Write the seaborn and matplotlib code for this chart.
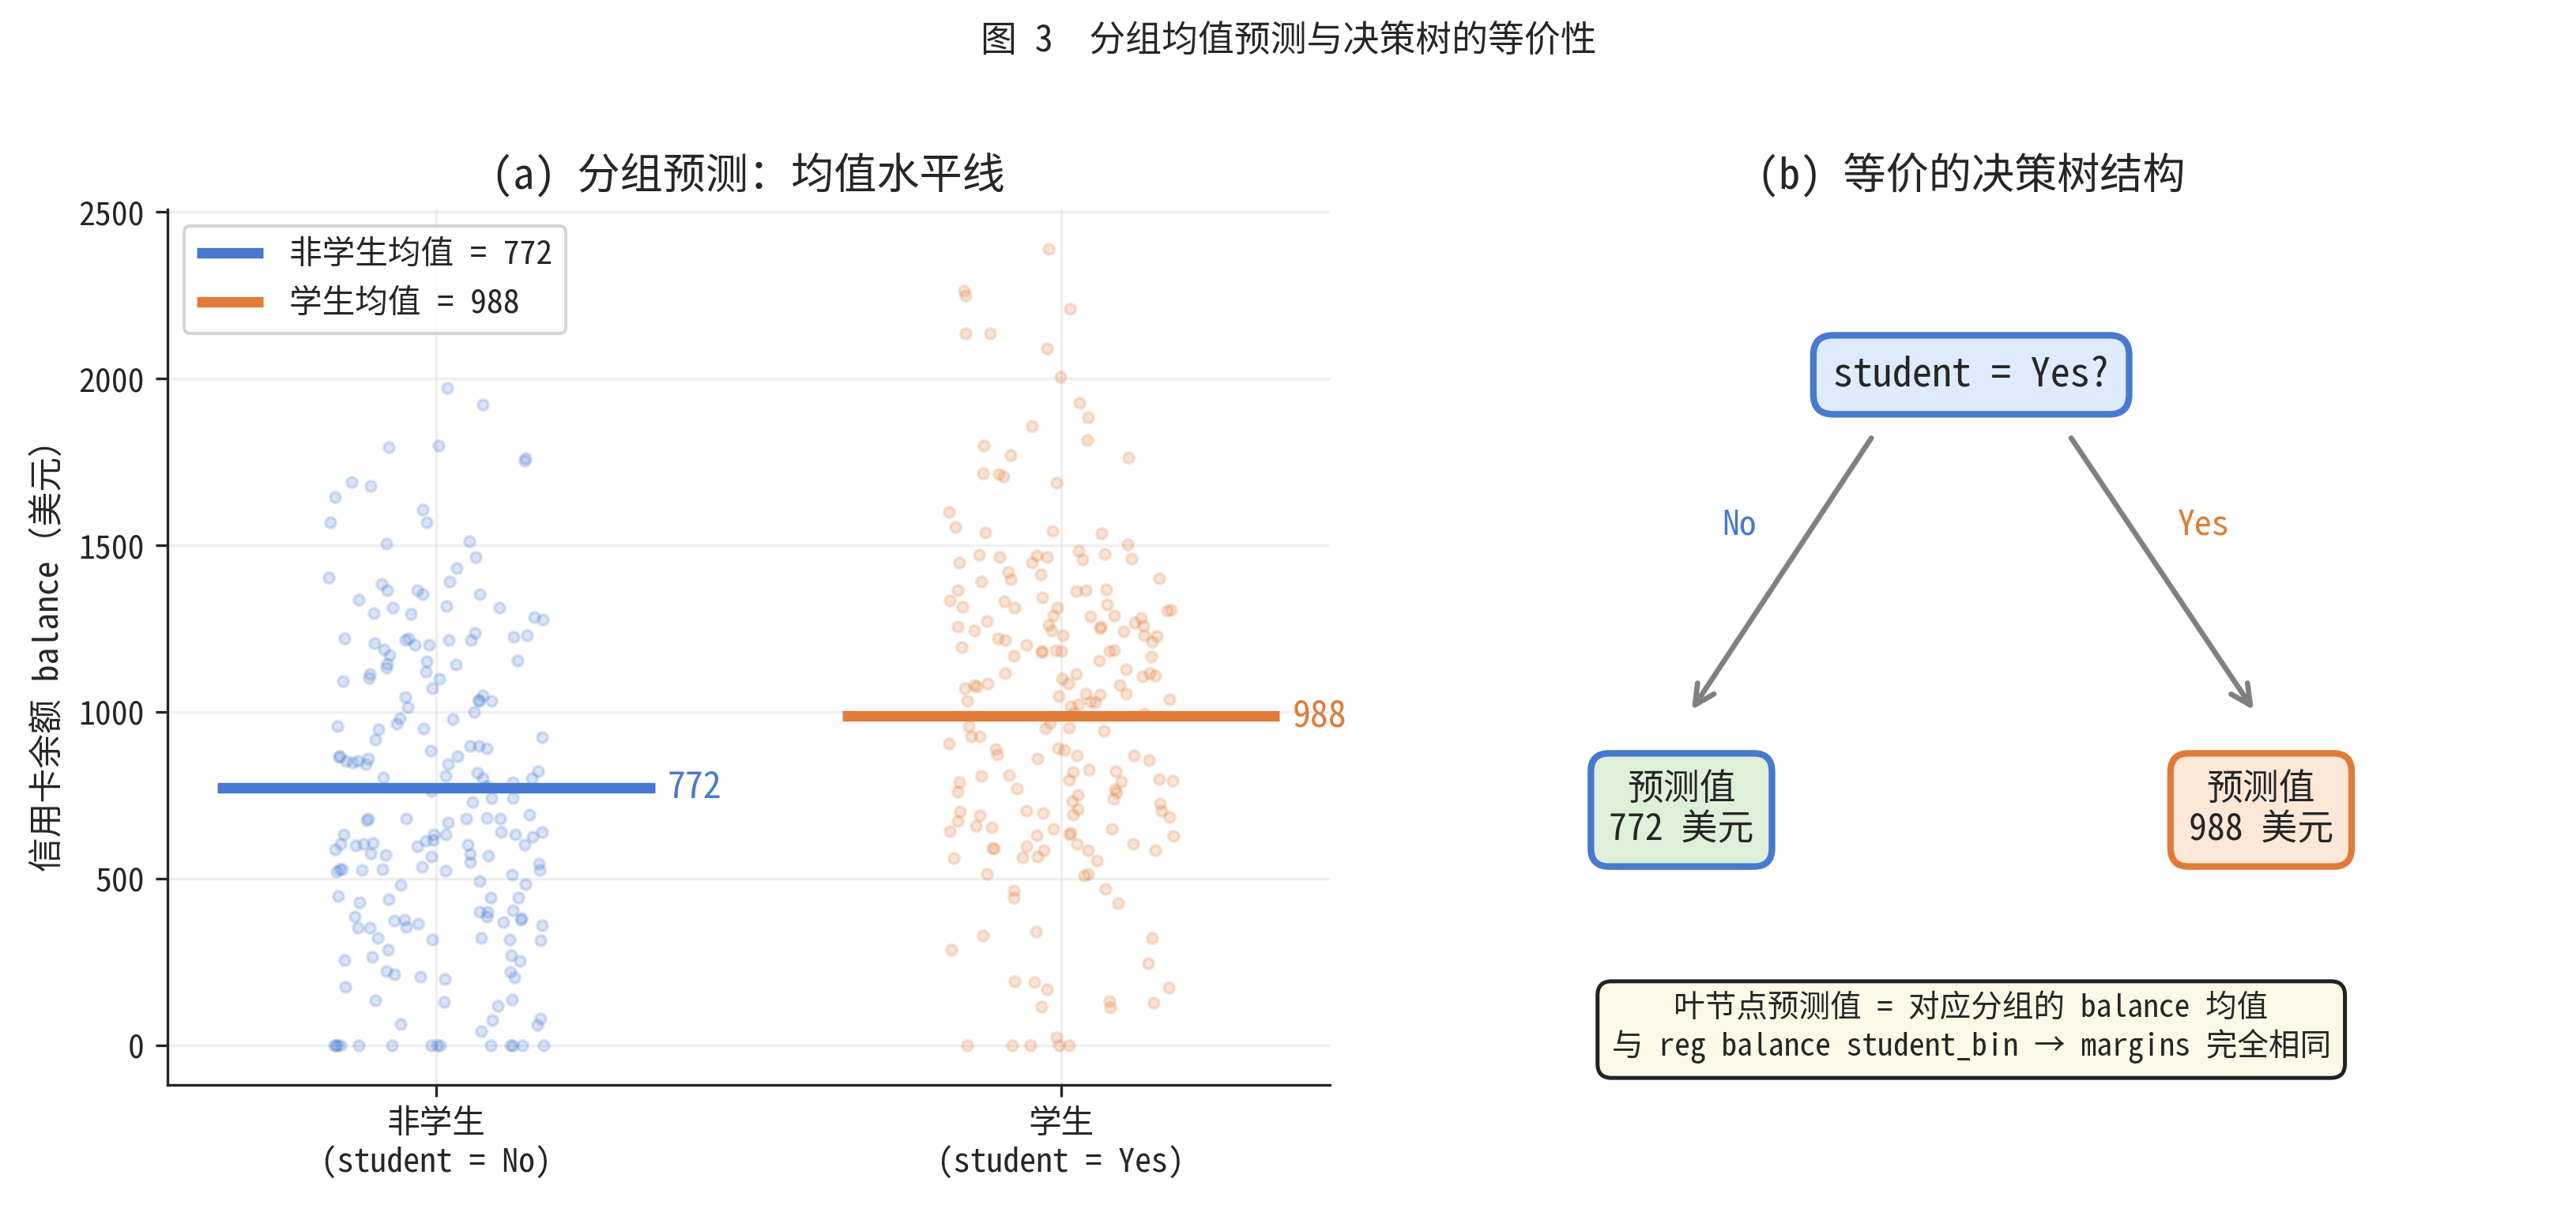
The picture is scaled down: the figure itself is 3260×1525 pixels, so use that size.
import numpy as np
import pandas as pd
import matplotlib
matplotlib.use("Agg")
import matplotlib.pyplot as plt
from matplotlib import font_manager as fm
import seaborn as sns

# --- data ---
categories = ["非学生\n(student = No)", "学生\n(student = Yes)"]
group_means = [772, 988]
mean_labels = ["非学生均值 = 772", "学生均值 = 988"]
leaf_texts = ["预测值\n772 美元", "预测值\n988 美元"]

balance_no = [
    1971, 1923, 1793, 1800, 1755, 1762, 1689, 1677, 1644, 1608, 1568, 1568,
    1511, 1506, 1464, 1431, 1404, 1392, 1385, 1366, 1366, 1353, 1353, 1336,
    1317, 1314, 1314, 1296, 1293, 1285, 1277, 1236, 1229, 1224, 1221, 1221,
    1216, 1216, 1216, 1206, 1201, 1201, 1187, 1170, 1151, 1155, 1142, 1144,
    1132, 1122, 1113, 1103, 1099, 1092, 1070, 1044, 1049, 1033, 1035, 1033,
    1014, 999, 980, 978, 965, 949, 958, 947, 925, 917, 899, 898, 890, 883,
    868, 865, 866, 860, 854, 853, 848, 843, 843, 821, 817, 807, 801, 804,
    801, 789, 776, 764, 741, 741, 729, 691, 681, 679, 669, 681, 676, 682,
    680, 640, 633, 632, 633, 632, 626, 640, 616, 614, 606, 605, 605, 601,
    601, 599, 596, 588, 575, 569, 573, 566, 570, 549, 545, 536, 529, 522,
    527, 526, 524, 511, 525, 528, 492, 482, 480, 448, 442, 437, 442, 429,
    399, 404, 399, 377, 385, 385, 374, 365, 376, 352, 382, 370, 359, 355,
    352, 323, 318, 315, 322, 317, 286, 269, 252, 255, 265, 219, 203, 213,
    222, 205, 199, 175, 137, 130, 118, 135, 79, 75, 64, 60, 43,
    0, 0, 0, 0, 0, 0, 0, 0, 0, 0, 0, 0, 0, 0,
]
balance_yes = [
    2389, 2263, 2249, 2209, 2135, 2135, 2090, 2005, 1927, 1884, 1858, 1815,
    1798, 1770, 1763, 1715, 1713, 1706, 1687, 1599, 1554, 1544, 1537, 1536,
    1502, 1483, 1475, 1470, 1447, 1464, 1449, 1457, 1471, 1464, 1461, 1419,
    1412, 1400, 1398, 1392, 1368, 1363, 1366, 1364, 1343, 1334, 1331, 1322,
    1315, 1314, 1305, 1303, 1312, 1290, 1287, 1289, 1281, 1272, 1267, 1256,
    1259, 1255, 1261, 1252, 1245, 1242, 1244, 1230, 1230, 1227, 1220, 1216,
    1210, 1201, 1195, 1183, 1180, 1185, 1185, 1183, 1182, 1168, 1166, 1155,
    1127, 1117, 1116, 1109, 1107, 1100, 1114, 1080, 1080, 1085, 1085, 1076,
    1072, 1054, 1048, 1052, 1054, 1038, 1034, 1031, 1024, 1029, 1016, 998,
    995, 966, 953, 943, 957, 949, 927, 927, 904, 888, 873, 886, 870, 870,
    890, 855, 859, 822, 819, 828, 811, 799, 791, 809, 796, 794, 790, 771,
    768, 760, 758, 752, 740, 732, 725, 704, 708, 702, 692, 696, 684, 704,
    690, 672, 658, 653, 649, 637, 633, 649, 643, 629, 627, 604, 605, 593,
    585, 585, 585, 589, 563, 597, 567, 562, 554, 514, 510, 514, 469, 464,
    443, 426, 342, 328, 322, 286, 245, 192, 188, 173, 168, 133, 115, 128,
    114, 24, 0, 0, 0, 0, 0,
]

BLUE = "#4878CF"
ORANGE = "#E07B39"
colors = [BLUE, ORANGE]


def available(name):
    try:
        fm.findfont(fm.FontProperties(family=name), fallback_to_default=False)
        return True
    except ValueError:
        return False


sns.set_style("ticks")
fams = [f for f in ["Noto Sans Mono CJK SC", "Noto Sans CJK SC"] if available(f)]
plt.rcParams["font.family"] = fams + ["DejaVu Sans"]
plt.rcParams["axes.unicode_minus"] = False

df = pd.DataFrame({
    "group": [categories[0]] * len(balance_no) + [categories[1]] * len(balance_yes),
    "balance": balance_no + balance_yes,
})

fig = plt.figure(figsize=(3261 / 300, 1525 / 300), dpi=300)
ax = fig.add_axes([0.065, 0.0997, 0.451, 0.7266])
ax2 = fig.add_axes([0.58, 0.0997, 0.37, 0.7266])

# (a) strip plot with group means
np.random.seed(3)
for cat, c in zip(categories, colors):
    sns.stripplot(data=df[df["group"] == cat], x="group", y="balance",
                  order=categories, color=c, edgecolor=c, linewidth=0.9,
                  size=3.2, alpha=0.2, jitter=0.18, ax=ax, zorder=2)

for i, (m, c, lab) in enumerate(zip(group_means, colors, mean_labels)):
    ax.hlines(m, i - 0.35, i + 0.35, color=c, lw=3.2, label=lab, zorder=3)
    ax.text(i + 0.37, m, f"{m}", color=c, fontsize=11, va="center", ha="left")

ax.set_xlim(-0.43, 1.43)
ax.set_ylim(-119, 2508)
ax.set_yticks([0, 500, 1000, 1500, 2000, 2500])
ax.grid(True, alpha=0.3)
ax.set_axisbelow(True)
ax.set_xlabel("")
ax.set_ylabel("信用卡余额 balance（美元）", fontsize=10.5)
ax.tick_params(labelsize=10)
ax.set_title("(a) 分组预测：均值水平线", fontsize=13)
ax.legend(loc="upper left", fontsize=10, frameon=True)
sns.despine(ax=ax)

# (b) equivalent decision tree
ax2.set_xlim(0, 1)
ax2.set_ylim(0, 1)
ax2.axis("off")
ax2.set_title("(b) 等价的决策树结构", fontsize=13)

ax2.text(0.5, 0.811, "student = Yes?", fontsize=12, ha="center", va="center",
         bbox=dict(boxstyle="round,pad=0.5", fc="#DDEBFC", ec=BLUE, lw=2))

leaf_x = [0.196, 0.804]
leaf_fc = ["#DFF0D8", "#FDE8D8"]
arrow_start = [0.399, 0.601]
arrow_end = [0.203, 0.800]
branch_x = [0.257, 0.744]
branch_labels = ["No", "Yes"]
for lx, fc, c, txt, sx, ex, bx, bl in zip(leaf_x, leaf_fc, colors, leaf_texts,
                                          arrow_start, arrow_end, branch_x, branch_labels):
    ax2.annotate("", xy=(ex, 0.422), xytext=(sx, 0.745),
                 arrowprops=dict(arrowstyle="->", color="gray", lw=1.6,
                                 mutation_scale=15))
    ax2.text(bx, 0.639, bl, color=c, fontsize=10.5, ha="center", va="center")
    ax2.text(lx, 0.314, txt, fontsize=11, ha="center", va="center",
             linespacing=1.15,
             bbox=dict(boxstyle="round,pad=0.5", fc=fc, ec=c, lw=2))

ax2.text(0.5, 0.064,
         "叶节点预测值 = 对应分组的 balance 均值\n与 reg balance student_bin → margins 完全相同",
         fontsize=9.5, ha="center", va="center", linespacing=1.2,
         bbox=dict(boxstyle="round,pad=0.45", fc="#FEF9E7", ec="#222222", lw=1.2))

fig.suptitle("图 3  分组均值预测与决策树的等价性", fontsize=11, y=0.966, va="center")

fig.savefig("out.png", dpi=300)
